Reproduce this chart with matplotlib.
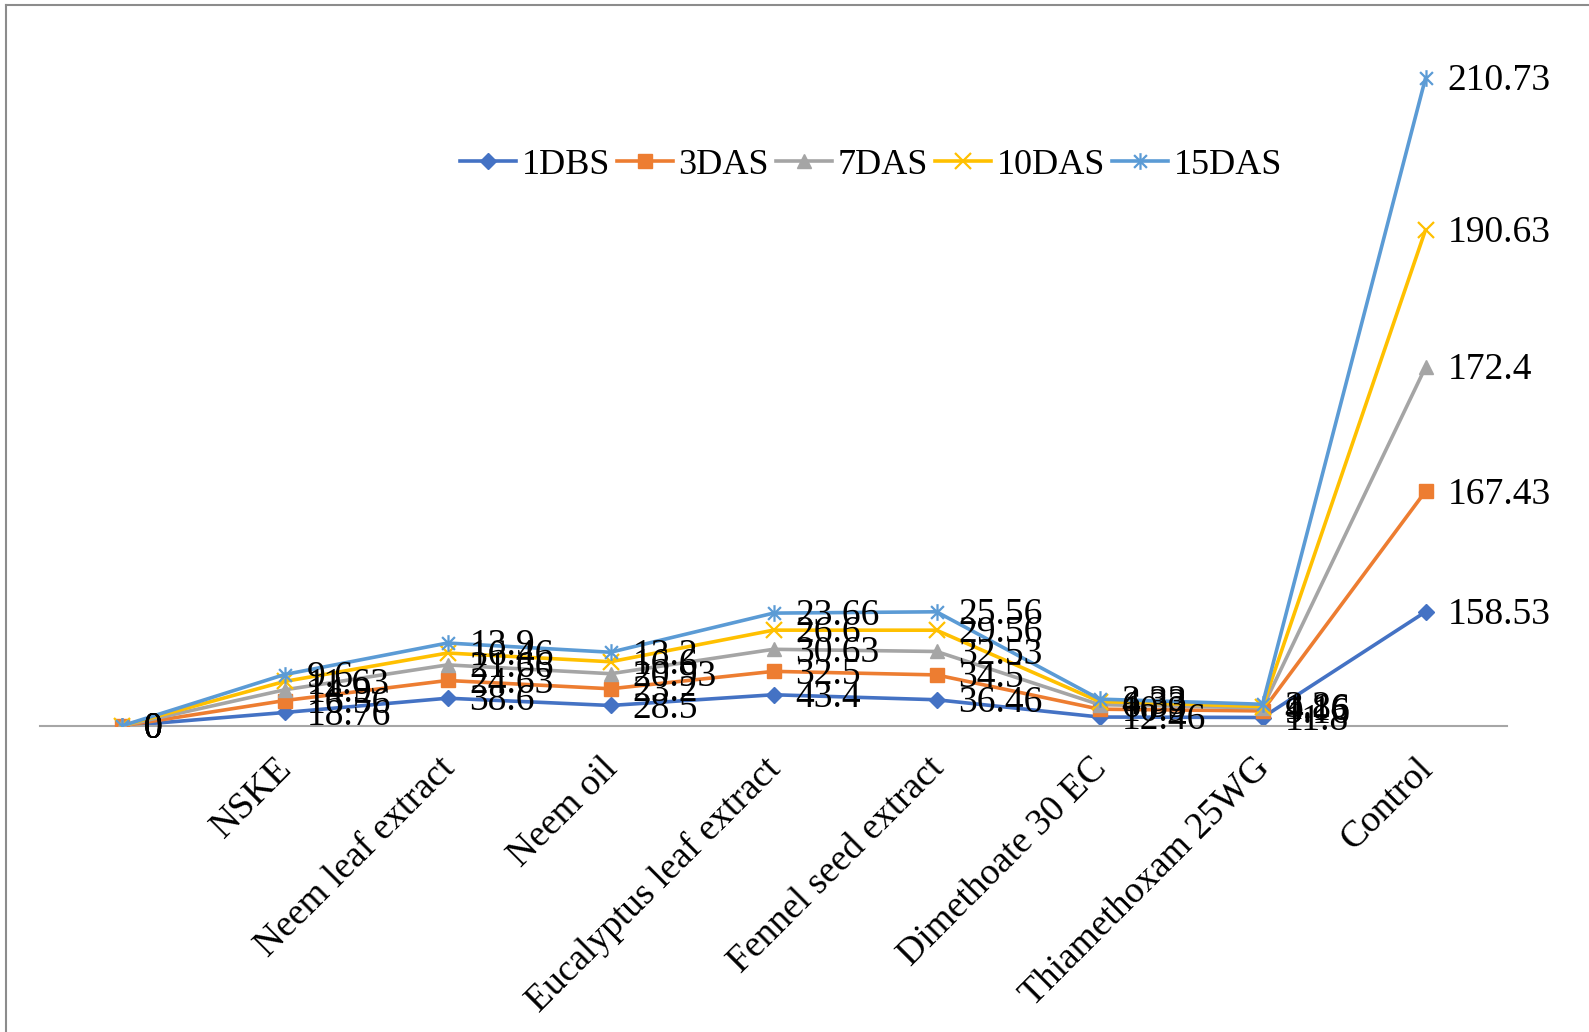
import matplotlib
matplotlib.use("Agg")
import matplotlib.pyplot as plt
import matplotlib.transforms as mtransforms
import numpy as np
from matplotlib.path import Path
from matplotlib.lines import Line2D

categories = ["", "NSKE", "Neem leaf extract", "Neem oil", "Eucalyptus leaf extract",
              "Fennel seed extract", "Dimethoate 30 EC", "Thiamethoxam 25WG", "Control"]

dbs1 = [0, 18.76, 38.6, 28.5, 43.4, 36.46, 12.46, 11.8, 158.53]
das3 = [0, 16.56, 24.63, 23.2, 32.5, 34.5, 10.9, 9.16, 167.43]
das7 = [0, 14.9, 21.66, 20.93, 30.63, 32.53, 6.33, 4.16, 172.4]
das10 = [0, 11.63, 16.46, 16.6, 26.6, 29.56, 4.33, 1.86, 190.63]
das15 = [0, 9.6, 13.9, 13.2, 23.66, 25.56, 3.33, 3.2, 210.73]

series_names = ["1DBS", "3DAS", "7DAS", "10DAS", "15DAS"]
series_vals = [dbs1, das3, das7, das10, das15]
colors = ["#4472C4", "#ED7D31", "#A5A5A5", "#FFC000", "#5B9BD5"]

# excel-style star marker: X plus a vertical bar
star = Path([(-1, -1), (1, 1), (-1, 1), (1, -1), (0, -1.3), (0, 1.3)],
            [Path.MOVETO, Path.LINETO, Path.MOVETO, Path.LINETO, Path.MOVETO, Path.LINETO])
markers = ["D", "s", "^", "x", star]
msizes = [8, 10, 10, 11, 12]

plt.rcParams['font.family'] = ['Liberation Serif', 'DejaVu Serif']

fig = plt.figure(figsize=(15.89, 10.32), dpi=100)
ax = fig.add_axes([40 / 1589, 306 / 1032, 1467 / 1589, 666 / 1032])

x = np.arange(len(categories))
cum = np.cumsum(np.array(series_vals), axis=0)

for i, name in enumerate(series_names):
    mew = 1.6 if i >= 3 else 1
    ax.plot(x, cum[i], color=colors[i], linewidth=2.6, marker=markers[i],
            markersize=msizes[i], markeredgewidth=mew, label=name, zorder=2 + i)

for i in range(len(series_names)):
    for j in range(len(categories)):
        v = series_vals[i][j]
        ax.annotate(f"{v:g}", (x[j], cum[i][j]), xytext=(22, -3), textcoords='offset pixels',
                    ha='left', va='center', fontsize=27, color='black', zorder=20)

ax.set_xlim(-0.5, len(categories) - 0.5)
ax.set_ylim(0, 925)
ax.set_yticks([])
ax.set_xticks(x)
ax.set_xticklabels(categories, rotation=45, ha='right', va='top',
                   rotation_mode='anchor', fontsize=27)
ax.tick_params(axis='x', length=0, pad=18)
shift = mtransforms.ScaledTranslation(-10 / 100, 0, fig.dpi_scale_trans)
for lbl in ax.get_xticklabels():
    lbl.set_transform(lbl.get_transform() + shift)
for s in ['left', 'top', 'right']:
    ax.spines[s].set_visible(False)
ax.spines['bottom'].set_color('#A6A6A6')
ax.spines['bottom'].set_linewidth(1.5)
ax.patch.set_alpha(0)

ax.legend(loc='center', bbox_to_anchor=(871 / 1589, 1 - 165 / 1032),
          bbox_transform=fig.transFigure, ncols=5, frameon=False, fontsize=26,
          handlelength=1.55, handletextpad=0.15, columnspacing=0.2, borderpad=0)

# chart frame (runs off the right and bottom of the picture)
fig.add_artist(Line2D([6 / 1589, 1.01], [1 - 5 / 1032, 1 - 5 / 1032], color='#8C8C8C',
                      linewidth=1.5, transform=fig.transFigure))
fig.add_artist(Line2D([6 / 1589, 6 / 1589], [-0.01, 1 - 5 / 1032], color='#8C8C8C',
                      linewidth=1.5, transform=fig.transFigure))

fig.savefig("out.png", dpi=100, facecolor='white')
